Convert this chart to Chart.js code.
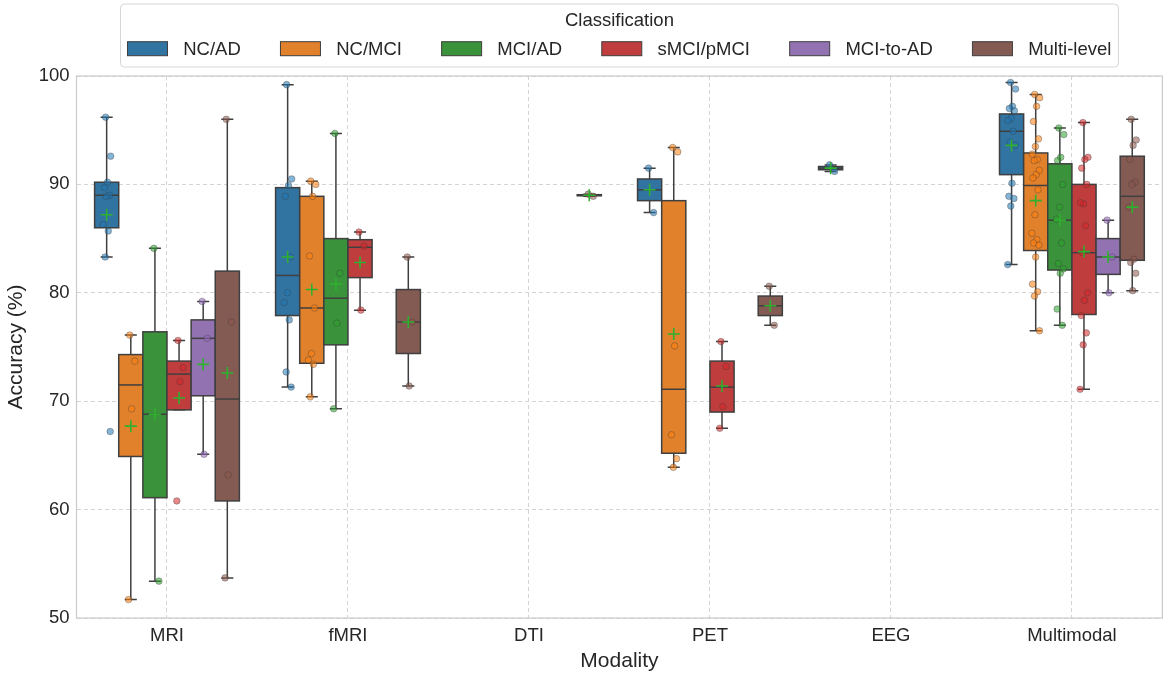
<!DOCTYPE html>
<html>
<head>
<meta charset="utf-8">
<script src="https://cdn.jsdelivr.net/npm/chart.js@4.4.1/dist/chart.umd.min.js"></script>
<style>
  html, body { margin: 0; padding: 0; background: #fff; }
  #wrap { width: 1170px; height: 678px; }
</style>
</head>
<body>
<div id="wrap"><canvas id="chart01" width="1170" height="678"></canvas></div>
<script>
const categories = ["MRI", "fMRI", "DTI", "PET", "EEG", "Multimodal"];
const classes = ["NC/AD", "NC/MCI", "MCI/AD", "sMCI/pMCI", "MCI-to-AD", "Multi-level"];
const yTicks = [50, 60, 70, 80, 90, 100];

// box statistics: one row per class, one column per modality (null = no box)
const whiskerLow = [
  [83.3, 71.3, null, 87.4, 91.2, 82.6],
  [51.7, 70.4, null, 63.9, null, 76.5],
  [53.4, 69.3, null, null, null, 77.0],
  [69.2, 78.4, null, 67.5, null, 71.1],
  [65.1, null, null, null, null, 80.0],
  [53.7, 71.4, 88.9, 77.0, null, 80.2],
];
const boxQ1 = [
  [86.0, 77.9, null, 88.5, 91.35, 90.9],
  [64.9, 73.5, null, 65.2, null, 83.9],
  [61.1, 75.2, null, null, null, 82.1],
  [69.2, 81.4, null, 69.0, null, 78.0],
  [70.5, null, null, null, null, 81.7],
  [60.8, 74.4, 88.95, 77.9, null, 83.0],
];
const boxMedian = [
  [89.0, 81.6, null, 89.5, 91.5, 94.9],
  [71.5, 78.6, null, 71.1, null, 89.9],
  [68.8, 79.5, null, null, null, 86.7],
  [72.5, 84.2, null, 71.3, null, 83.7],
  [75.8, null, null, null, null, 83.3],
  [70.2, 77.3, 89.0, 78.8, null, 88.9],
];
const boxQ3 = [
  [90.2, 89.7, null, 90.5, 91.65, 96.5],
  [74.3, 88.9, null, 88.5, null, 92.9],
  [76.4, 85.0, null, null, null, 91.9],
  [73.7, 84.9, null, 73.7, null, 90.0],
  [77.5, null, null, null, null, 85.0],
  [82.0, 80.3, 89.05, 79.7, null, 92.6],
];
const whiskerHigh = [
  [96.2, 99.2, null, 91.5, 91.8, 99.4],
  [76.1, 90.3, null, 93.4, null, 98.3],
  [84.1, 94.7, null, null, null, 95.2],
  [75.6, 85.6, null, 75.5, null, 95.7],
  [79.2, null, null, null, null, 86.7],
  [96.0, 83.3, 89.1, 80.6, null, 96.0],
];
const boxMean = [
  [87.2, 83.3, null, 89.5, 91.5, 93.6],
  [67.7, 80.3, null, 76.2, null, 88.5],
  [68.8, 80.8, null, null, null, 86.7],
  [70.3, 82.8, null, 71.4, null, 83.8],
  [73.4, null, null, null, null, 83.3],
  [72.6, 77.3, 89.0, 78.8, null, 87.9],
];

// individual study accuracies (strip points), per class, per modality
const ncAdPoints = [
  [96.2, 92.6, 90.2, 89.7, 89.0, 88.9, 86.3, 85.7, 83.3, 67.2],
  [99.2, 90.5, 89.9, 88.9, 83.3, 80.0, 79.1, 77.5, 72.7, 71.3],
  [],
  [91.5, 87.4],
  [91.8, 91.2],
  [99.4, 98.8, 97.2, 97.0, 96.8, 96.1, 95.9, 94.9, 93.9, 93.6, 90.1, 88.9, 88.7, 88.0, 82.6],
];
const ncMciPoints = [
  [76.1, 73.7, 69.3, 51.7],
  [90.3, 90.0, 88.9, 83.4, 78.6, 74.4, 73.8, 73.4, 70.4],
  [],
  [93.4, 93.0, 75.1, 66.9, 64.7, 63.9],
  [],
  [98.3, 98.0, 97.2, 95.8, 94.2, 93.5, 92.8, 92.3, 92.2, 91.3, 90.9, 90.6, 89.5, 87.2, 85.5, 84.9, 84.6, 84.4, 83.3, 80.8, 80.1, 79.7, 76.5],
];
const mciAdPoints = [
  [84.1, 53.4],
  [94.7, 81.8, 77.2, 69.3],
  [],
  [],
  [],
  [95.2, 94.6, 92.5, 92.2, 90.0, 87.9, 86.8, 84.6, 82.7, 82.2, 81.8, 78.5, 77.0],
];
const smciPmciPoints = [
  [75.6, 73.1, 71.8, 60.8],
  [85.6, 84.3, 78.4],
  [],
  [75.5, 73.2, 69.5, 67.5],
  [],
  [95.7, 92.5, 92.3, 91.5, 90.0, 88.2, 88.3, 86.2, 83.7, 80.0, 79.3, 77.9, 76.3, 75.2, 71.1],
];
const mciToAdPoints = [
  [79.2, 75.8, 65.1],
  [],
  [],
  [],
  [],
  [86.7, 83.3, 80.0],
];
const multiLevelPoints = [
  [96.0, 77.3, 63.2, 53.7],
  [83.3, 77.3, 71.4],
  [89.1, 88.9],
  [80.6, 77.0],
  [],
  [96.0, 94.1, 93.6, 92.3, 90.2, 90.0, 87.9, 83.1, 82.8, 81.8, 80.2],
];
const stripPoints = [ncAdPoints, ncMciPoints, mciAdPoints, smciPmciPoints, mciToAdPoints, multiLevelPoints];

const boxColors = ["#3274a1", "#e1812c", "#3a923a", "#c03d3e", "#9372b2", "#845b53"];
const dotColors = ["31,119,180", "255,127,14", "44,160,44", "214,39,40", "148,103,189", "140,86,75"];
const lineColor = "#3f3f3f";
const meanColor = "#2fb02f";
const fontFamily = "Arial, 'Liberation Sans', Helvetica, sans-serif";

Chart.defaults.font.family = fontFamily;
Chart.defaults.color = "#262626";

const slotWidth = 0.8 / classes.length;
const slotOffset = (h) => (h - (classes.length - 1) / 2) * slotWidth;
// small deterministic horizontal spread, like a strip plot
const jitter = (k) => (((k * 0.618034 + 0.37) % 1) - 0.5) * 0.045;

const boxPlotPlugin = {
  id: "boxPlot",
  beforeDatasetsDraw(chart) {
    const { ctx, chartArea: a, scales } = chart;
    const x = scales.x, y = scales.y;
    ctx.save();
    // axes frame
    ctx.strokeStyle = "#cccccc";
    ctx.lineWidth = 1.25;
    ctx.strokeRect(a.left, a.top, a.right - a.left, a.bottom - a.top);

    const halfW = (x.getPixelForValue(slotWidth) - x.getPixelForValue(0)) / 2;
    ctx.lineWidth = 1.5;
    classes.forEach((name, h) => {
      categories.forEach((cat, c) => {
        if (boxQ1[h][c] === null) return;
        const px = x.getPixelForValue(c + slotOffset(h));
        const yLo = y.getPixelForValue(whiskerLow[h][c]);
        const yQ1 = y.getPixelForValue(boxQ1[h][c]);
        const yMed = y.getPixelForValue(boxMedian[h][c]);
        const yQ3 = y.getPixelForValue(boxQ3[h][c]);
        const yHi = y.getPixelForValue(whiskerHigh[h][c]);
        ctx.strokeStyle = lineColor;
        // whiskers + caps
        ctx.beginPath();
        ctx.moveTo(px, yQ3); ctx.lineTo(px, yHi);
        ctx.moveTo(px - halfW / 2, yHi); ctx.lineTo(px + halfW / 2, yHi);
        ctx.moveTo(px, yQ1); ctx.lineTo(px, yLo);
        ctx.moveTo(px - halfW / 2, yLo); ctx.lineTo(px + halfW / 2, yLo);
        ctx.stroke();
        // box
        ctx.fillStyle = boxColors[h];
        ctx.fillRect(px - halfW, yQ3, halfW * 2, yQ1 - yQ3);
        ctx.strokeRect(px - halfW, yQ3, halfW * 2, yQ1 - yQ3);
        // median
        ctx.beginPath();
        ctx.moveTo(px - halfW, yMed); ctx.lineTo(px + halfW, yMed);
        ctx.stroke();
      });
    });
    ctx.restore();
  },
  afterDraw(chart) {
    const { ctx, chartArea: a } = chart;
    const size = 18.5;
    const handleW = 40, handleH = 14, textGap = 15.7, colGap = 39.7;
    ctx.save();
    ctx.font = size + "px " + fontFamily;
    const widths = classes.map((t) => ctx.measureText(t).width);
    const total = widths.reduce((s, w) => s + handleW + textGap + w, 0) + colGap * (classes.length - 1);
    const cx = (a.left + a.right) / 2;
    const x0 = cx - total / 2;
    // frame
    ctx.beginPath();
    ctx.roundRect(x0 - 7, 4, total + 14, 63, 4);
    ctx.fillStyle = "rgba(255,255,255,0.85)";
    ctx.fill();
    ctx.strokeStyle = "#d6d6d6";
    ctx.lineWidth = 1;
    ctx.stroke();
    // title
    ctx.fillStyle = "#262626";
    ctx.textAlign = "center";
    ctx.textBaseline = "middle";
    ctx.fillText("Classification", cx, 20.5);
    // items
    ctx.textAlign = "left";
    let px = x0;
    const rowY = 48.7;
    classes.forEach((t, h) => {
      ctx.fillStyle = boxColors[h];
      ctx.fillRect(px, rowY - handleH / 2, handleW, handleH);
      ctx.strokeStyle = lineColor;
      ctx.strokeRect(px, rowY - handleH / 2, handleW, handleH);
      ctx.fillStyle = "#262626";
      ctx.fillText(t, px + handleW + textGap, rowY + 1);
      px += handleW + textGap + widths[h] + colGap;
    });
    ctx.restore();
  },
};

const pointSets = classes.map((name, h) => {
  const pts = [];
  stripPoints[h].forEach((vals, c) => {
    vals.forEach((v, k) => pts.push({ x: c + slotOffset(h) + jitter(k), y: v }));
  });
  return {
    label: name,
    data: pts,
    pointRadius: 3.3,
    pointBackgroundColor: "rgba(" + dotColors[h] + ",0.55)",
    pointBorderColor: "rgba(60,60,60,0.45)",
    pointBorderWidth: 0.8,
    order: 1,
  };
});

const meanPts = [];
classes.forEach((name, h) => {
  boxMean[h].forEach((m, c) => {
    if (m !== null) meanPts.push({ x: c + slotOffset(h), y: m });
  });
});
const meanSet = {
  label: "mean",
  data: meanPts,
  pointStyle: "cross",
  pointRadius: 6,
  pointBorderColor: meanColor,
  pointBorderWidth: 1.6,
  order: 0,
};

const ctx01 = document.getElementById("chart01").getContext("2d");
const myChart01 = new Chart(ctx01, {
  type: "scatter",
  data: { datasets: [...pointSets, meanSet] },
  options: {
    responsive: false,
    animation: false,
    devicePixelRatio: 1,
    layout: { padding: { top: 76, right: 2.5, left: 0, bottom: 0 } },
    plugins: {
      legend: { display: false },
      tooltip: { enabled: false },
    },
    scales: {
      x: {
        type: "linear",
        min: -0.5,
        max: categories.length - 0.5,
        afterBuildTicks(scale) { scale.ticks = categories.map((c, i) => ({ value: i })); },
        grid: { color: "#d4d4d4", lineWidth: 1, drawTicks: false },
        border: { display: false, dash: [4, 3] },
        ticks: {
          padding: 7,
          color: "#262626",
          font: { size: 18.5 },
          maxRotation: 0,
          autoSkip: false,
          callback: (v) => categories[v],
        },
        title: { display: true, text: "Modality", color: "#262626", font: { size: 21 }, padding: { top: 0, bottom: 4 } },
        afterFit(scale) { scale.height = 60; },
      },
      y: {
        min: 50,
        max: 100,
        afterBuildTicks(scale) { scale.ticks = yTicks.map((v) => ({ value: v })); },
        grid: { color: "#d4d4d4", lineWidth: 1, drawTicks: false },
        border: { display: false, dash: [4, 3] },
        ticks: { padding: 7, color: "#262626", font: { size: 18.5 } },
        title: { display: true, text: "Accuracy (%)", color: "#262626", font: { size: 21 }, padding: { top: 4, bottom: 0 } },
        afterFit(scale) { scale.width = 76.5; },
      },
    },
  },
  plugins: [boxPlotPlugin],
});
</script>
</body>
</html>
